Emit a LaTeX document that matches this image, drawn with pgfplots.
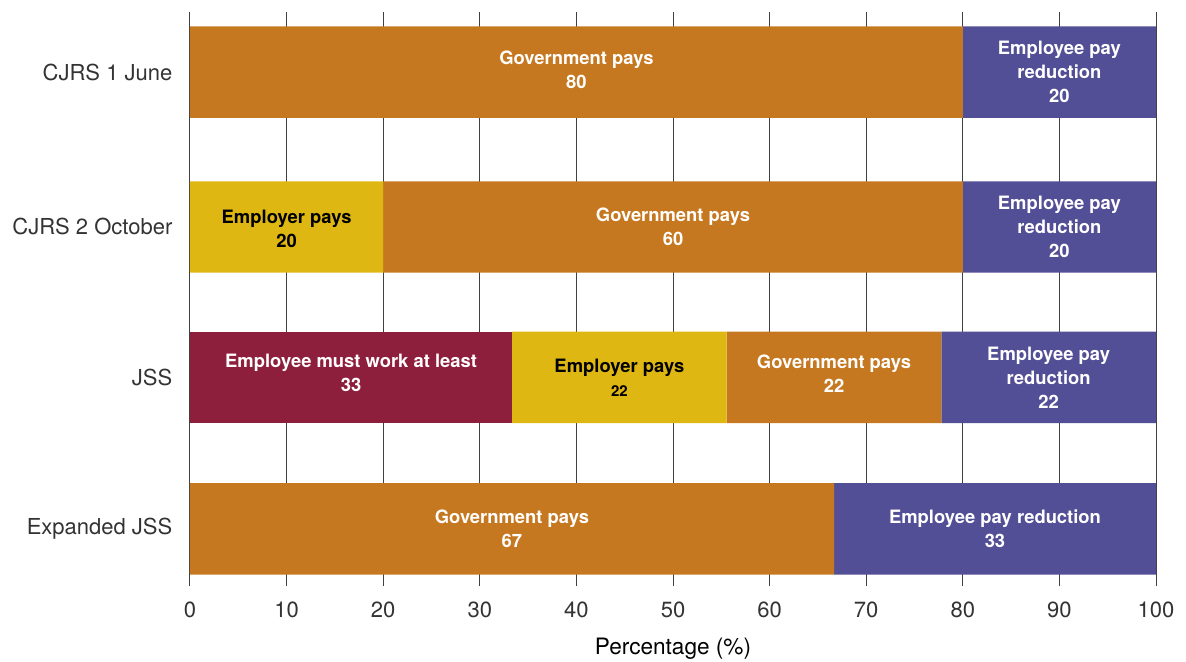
\documentclass[border=0pt]{standalone}
\usepackage{fontspec}
\setmainfont{TeX Gyre Heros}
\usepackage{pgfplots}
\pgfplotsset{compat=1.18}
\definecolor{gov}{HTML}{C67820}
\definecolor{red1}{HTML}{8E1F3C}
\definecolor{yel}{HTML}{DEB713}
\definecolor{pur}{HTML}{534F96}
\protected\def\nl{\\}
\protected\def\sm#1{{\fontsize{7.5}{9}\selectfont #1}}
\pgfplotsset{common/.style={
  scale only axis, width=483pt, height=287pt,
  xmin=0, xmax=100, ymin=-0.375, ymax=3.395}}
\begin{document}
\begin{tikzpicture}
\begin{axis}[
  common, name=ax,
  xbar stacked, bar width=0.6,
  xtick={0,10,...,100},
  ytick={0,0.995,1.983,3},
  yticklabels={Expanded JSS, JSS, CJRS 2 October, CJRS 1 June},
  xmajorgrids, major grid style={black!75, line width=0.5pt},
  axis line style={draw=none}, major tick length=0pt,
  tick label style={font=\fontsize{11}{13}\selectfont, text=black!80},
  xticklabel style={yshift=-4.3pt},
  yticklabel style={xshift=-5.3pt},
  /pgf/number format/assume math mode=true,
  xlabel={Percentage (\%)},
  xlabel style={at={(axis description cs:0.5,0)}, anchor=center, yshift=-31.5pt, font=\fontsize{11.3}{13}\selectfont},
]
\addplot[fill=red1, draw=none] coordinates {(0,3) (0,1.983) (33.34,0.995) (0,0)};
\addplot[fill=yel, draw=none] coordinates {(0,3) (20,1.983) (22.22,0.995) (0,0)};
\addplot[fill=gov, draw=none] coordinates {(80,3) (60,1.983) (22.22,0.995) (66.67,0)};
\addplot[fill=pur, draw=none] coordinates {(20,3) (20,1.983) (22.22,0.995) (33.33,0)};
\end{axis}
\begin{axis}[
  common, hide axis,
  point meta=explicit symbolic,
  nodes near coords,
  nodes near coords align={center},
  every node near coord/.style={anchor=center, align=center, font=\bfseries\fontsize{9.2}{12}\selectfont},
]
\addplot[only marks, mark=none, nodes near coords style={text=white}] coordinates {
  (40,3.013) [Government pays\nl 80]
  (90,3) [Employee pay\nl reduction\nl 20]
  (50,1.983) [Government pays\nl 60]
  (90,1.983) [Employee pay\nl reduction\nl 20]
  (16.67,1.025) [Employee must work at least\nl 33]
  (66.67,1.021) [Government pays\nl 22]
  (88.89,0.995) [Employee pay\nl reduction\nl 22]
  (33.33,0) [Government pays\nl 67]
  (83.33,0) [Employee pay reduction\nl 33]
};
\addplot[only marks, mark=none, nodes near coords style={text=black}] coordinates {
  (10,1.973) [Employer pays\nl 20]
  (44.45,0.995) [Employer pays\nl\sm{22}]
};
\end{axis}
\pgfresetboundingbox
\path[use as bounding box] ([xshift=-95pt,yshift=-38pt]ax.south west) rectangle ([xshift=15pt,yshift=6pt]ax.north east);
\end{tikzpicture}
\end{document}
